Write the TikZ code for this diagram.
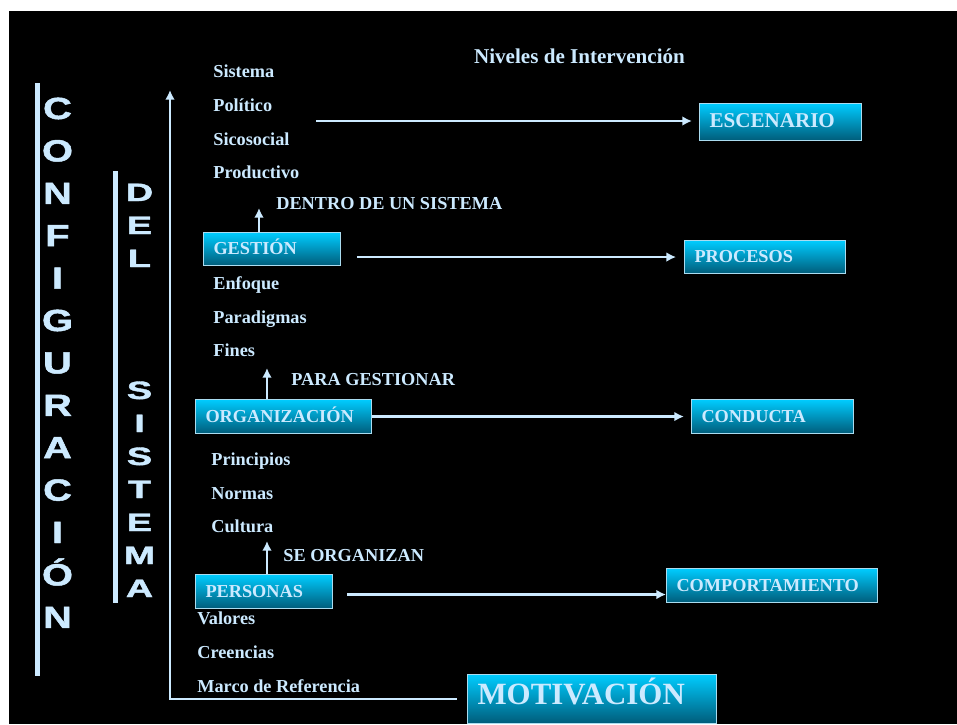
\documentclass[tikz,border=0pt]{standalone}
\usepackage{fontspec}
\setmainfont{Liberation Serif}
\newfontfamily\letras[BoldFeatures={FakeBold=1.5}]{Liberation Sans}
\usepackage{graphicx}
\usetikzlibrary{calc,arrows.meta}
\definecolor{txt}{RGB}{204,234,255}
\definecolor{borde}{RGB}{170,220,240}
\definecolor{cian}{RGB}{0,204,255}
\definecolor{petroleo}{RGB}{0,92,122}
\newcommand{\Rotulo}{\bfseries\fontsize{10.4}{12}\selectfont}

\begin{document}
\begin{tikzpicture}[x=0.02cm,y=-0.02cm,
	texto/.style={anchor=west,inner sep=0pt,text=txt,font=\Rotulo,text height=0.66em,text depth=0pt},
	nivel/.style={draw=borde,line width=0.6pt,top color=cian,bottom color=petroleo,anchor=north west,
		inner xsep=0.2cm,inner ysep=0pt,align=left,text=txt,font=\Rotulo,text height=0.66em,text depth=0pt},
	flecha/.style={draw=txt,line width=1.3pt,-{Latex[length=5.5pt,width=5.5pt]}},
	barra/.style={draw=txt,line width=2.3pt},
	letra/.style={anchor=base,inner sep=0pt,text=txt,font=\letras\bfseries\fontsize{17.4}{18}\selectfont},
	letrados/.style={anchor=base,inner sep=0pt,text=txt,font=\letras\bfseries\fontsize{14.3}{15}\selectfont}]
%page
\useasboundingbox (0,0) rectangle (957,724);
\fill[white] (0,0) rectangle (957,724);
\fill[black] (9,11) rectangle (957,724);

%title
\node[texto,anchor=center,font=\bfseries\fontsize{12}{14}\selectfont] (titulo) at (579.5,58) {Niveles de Intervención};

%side bars
\draw[barra] (37.5,83) -- (37.5,676);
\draw[barra] (115.5,171) -- (115.5,603);
\foreach \l [count=\i from 0] in {C,O,N,F,I,G,U,R,A,C,I,Ó,N}
	\node[letra] (conf\i) at (57.5,{119+42.4*\i}) {\scalebox{1.3}[1]{\l}};
\foreach \l/\i in {D/0,E/1,L/2,S/6,I/7,S/8,T/9,E/10,M/11,A/12}
	\node[letrados] (sis\i) at (139.5,{201+33*\i}) {\scalebox{1.5}[1]{\l}};

%boxes
\node[nivel,text width=2.84cm,minimum height=0.74cm,font=\bfseries\fontsize{12}{14}\selectfont] (escenario) at (699,103) {ESCENARIO};
\node[nivel,text width=2.34cm,minimum height=0.66cm] (gestion) at (203,232) {GESTIÓN};
\node[nivel,text width=2.82cm,minimum height=0.66cm] (procesos) at (684,240) {PROCESOS};
\node[nivel,text width=3.12cm,minimum height=0.68cm] (organizacion) at (195,399) {ORGANIZACIÓN};
\node[nivel,text width=2.84cm,minimum height=0.68cm] (conducta) at (691,399) {CONDUCTA};
\node[nivel,text width=2.34cm,minimum height=0.68cm] (personas) at (195,574) {PERSONAS};
\node[nivel,text width=3.82cm,minimum height=0.68cm] (comportamiento) at (666,568) {COMPORTAMIENTO};
\node[nivel,text width=4.58cm,minimum height=0.98cm,font=\bfseries\fontsize{17.6}{20}\selectfont] (motivacion) at (467,674) {MOTIVACIÓN};

%labels
\node[texto] (sistema) at (213,72) {Sistema};
\node[texto] (politico) at (213,106) {Político};
\node[texto] (sicosocial) at (213,140) {Sicosocial};
\node[texto] (productivo) at (213,173) {Productivo};
\node[texto] (dentro) at (276,204) {DENTRO DE UN SISTEMA};
\node[texto] (enfoque) at (213,284) {Enfoque};
\node[texto] (paradigmas) at (213,318) {Paradigmas};
\node[texto] (fines) at (213,351) {Fines};
\node[texto] (paragestionar) at (291,380) {PARA GESTIONAR};
\node[texto] (principios) at (211,460) {Principios};
\node[texto] (normas) at (211,494) {Normas};
\node[texto] (cultura) at (211,527) {Cultura};
\node[texto] (seorganizan) at (283,556) {SE ORGANIZAN};
\node[texto] (valores) at (197,619) {Valores};
\node[texto] (creencias) at (197,653) {Creencias};
\node[texto] (marco) at (197,687) {Marco de Referencia};

%main axis
\coordinate (tope) at (170,90);
\draw[flecha,line width=1.6pt,shorten <=5.7pt] (motivacion.west) -| (tope);

%arrows
\coordinate (s1) at (316,121);
\draw[flecha,shorten >=4pt] (s1) -- (s1 -| escenario.west);
\draw[flecha,shorten <=9pt,shorten >=4.5pt] (gestion.east |- procesos.west) -- (procesos.west);
\draw[flecha,shorten >=4pt] (organizacion.east) -- (organizacion.east -| conducta.west);
\draw[flecha] ($(personas.east)+(14,3)$) coordinate (p1) -- (p1 -| comportamiento.west);
\draw[flecha] ([xshift=1.12cm]gestion.north west) -- ++(0,-24);
\draw[flecha] ([xshift=1.44cm]organizacion.north west) -- ++(0,-31);
\draw[flecha] ([xshift=1.44cm]personas.north west) -- ++(0,-33);
\end{tikzpicture}
\end{document}
